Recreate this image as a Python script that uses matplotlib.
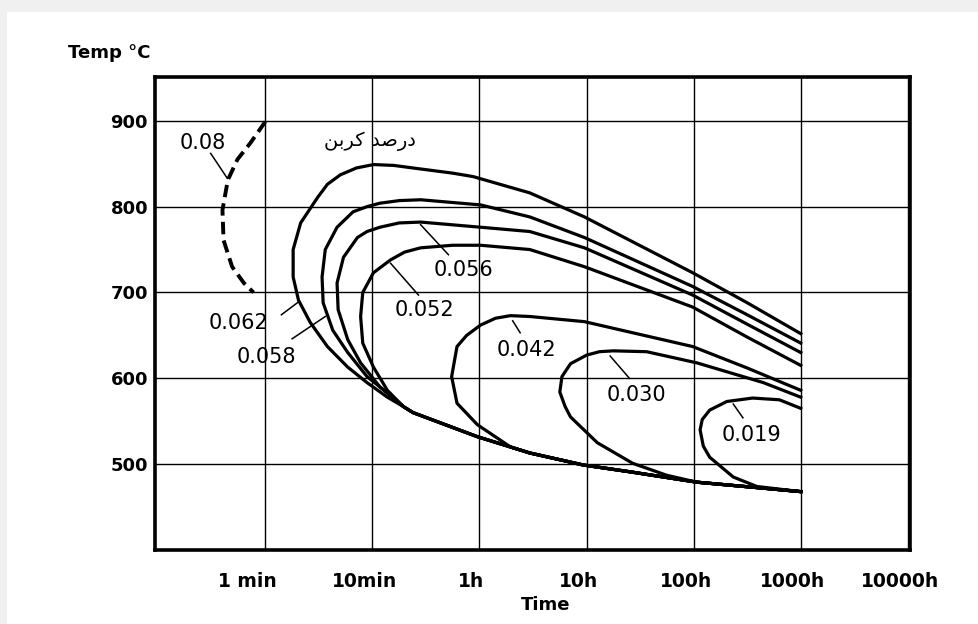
import matplotlib
matplotlib.use("Agg")
import matplotlib.pyplot as plt
from matplotlib.patches import Rectangle
from matplotlib.transforms import ScaledTranslation

# ---- axis categories (equally spaced time steps) ----
time_ticks = [1, 2, 3, 4, 5, 6, 7]
time_labels = ["1 min", "10min", "1h", "10h", "100h", "1000h", "10000h"]
temp_ticks = [500, 600, 700, 800, 900]

# ---- shared lower branch (time position, temperature °C) ----
bottom_x = [2.29, 2.38, 2.98, 3.47, 3.97, 4.41, 5.03, 5.65, 6.00]
bottom_t = [567, 560, 532, 513, 499, 491, 479, 472, 468]

# ---- upper branches + noses ----
c062_x = [6.00, 5.50, 4.99, 3.98, 3.47, 2.94, 2.75, 2.38, 2.20, 2.01, 1.85, 1.70, 1.58, 1.49, 1.33, 1.26, 1.26, 1.31, 1.42, 1.58, 1.77, 1.95, 2.14]
c062_t = [652, 688, 723, 788, 816, 835, 839, 845, 848, 849, 845, 837, 826, 811, 781, 750, 718, 691, 665, 637, 613, 595, 578]

c058_x = [6.00, 5.50, 4.99, 3.98, 3.47, 3.01, 2.45, 2.25, 2.07, 1.95, 1.82, 1.67, 1.56, 1.53, 1.54, 1.63, 1.77, 1.95, 2.14]
c058_t = [641, 674, 707, 764, 788, 802, 808, 807, 804, 800, 794, 776, 750, 718, 688, 656, 630, 602, 583]

c056_x = [6.00, 5.50, 4.99, 3.98, 3.47, 3.01, 2.45, 2.25, 2.07, 1.95, 1.86, 1.73, 1.67, 1.68, 1.77, 1.89, 2.07]
c056_t = [630, 663, 697, 752, 771, 776, 782, 781, 776, 771, 764, 741, 711, 680, 645, 618, 590]

c052_x = [6.00, 5.50, 4.99, 3.98, 3.47, 3.01, 2.75, 2.45, 2.30, 2.17, 2.01, 1.91, 1.89, 1.91, 2.01, 2.14]
c052_t = [615, 648, 683, 730, 750, 755, 755, 752, 747, 738, 723, 700, 672, 641, 613, 586]

c042_x = [6.00, 5.50, 4.99, 3.98, 3.47, 3.29, 3.15, 3.01, 2.88, 2.79, 2.74, 2.79, 2.98, 3.29, 3.47, 3.97, 4.41, 5.03, 5.65, 6.00]
c042_t = [586, 612, 637, 666, 672, 673, 670, 662, 650, 637, 602, 571, 546, 520, 513, 499, 491, 479, 472, 468]

c030_x = [6.00, 5.65, 5.03, 4.56, 4.25, 4.12, 4.00, 3.85, 3.77, 3.75, 3.80, 3.85, 4.10, 4.43, 4.75, 5.03, 5.65, 6.00]
c030_t = [578, 595, 618, 631, 632, 631, 627, 617, 602, 584, 567, 555, 525, 501, 487, 479, 472, 468]

c019_x = [6.00, 5.80, 5.55, 5.31, 5.15, 5.08, 5.06, 5.09, 5.15, 5.37, 5.59, 6.00]
c019_t = [565, 575, 577, 573, 563, 552, 540, 521, 508, 485, 474, 468]

c08_x = [1.00, 0.86, 0.74, 0.65, 0.60, 0.61, 0.69, 0.80, 0.89]
c08_t = [899, 874, 855, 831, 796, 761, 730, 711, 700]

carbon_labels = ["0.08", "0.062", "0.058", "0.056", "0.052", "0.042", "0.030", "0.019"]
arabic_title = "\uFEE6\uFE91\uFEAE\uFB90 \uFEAA\uFEBB\uFEAD\uFEA9"  # درصد کربن (pre-shaped, visual order)

# annotation placement: (text x, text y, leader start, leader end)
label_pos = {
    "0.08":  (0.42, 874, (0.49, 862), (0.645, 833)),
    "0.062": (0.75, 665, (1.15, 674), (1.31, 689)),
    "0.058": (1.01, 625, (1.25, 646), (1.56, 672)),
    "0.056": (2.85, 726, (2.45, 779), (2.71, 744)),
    "0.052": (2.49, 679, (2.17, 734), (2.43, 697)),
    "0.042": (3.44, 633, (3.31, 667), (3.38, 653)),
    "0.030": (4.47, 581, (4.22, 626), (4.40, 600)),
    "0.019": (5.54, 534, (5.37, 570), (5.46, 554)),
}

plt.rcParams["font.family"] = ["DejaVu Sans"]

fig = plt.figure(figsize=(9.79, 6.24), dpi=100, facecolor="#f0f0f0")
fig.patches.append(Rectangle((7 / 979, 0), 1, (624 - 12) / 624, transform=fig.transFigure,
                             facecolor="white", edgecolor="none", zorder=-10))
ax = fig.add_axes([155 / 979, 1 - 550 / 624, (910 - 155) / 979, (550 - 77) / 624])
ax.set_facecolor("white")

ax.set_xlim(-0.03, 7.02)
ax.set_ylim(400, 951)
ax.set_xticks(time_ticks)
ax.set_xticklabels(time_labels, fontsize=13.5, fontweight="bold")
ax.set_yticks(temp_ticks)
ax.set_yticklabels([str(t) for t in temp_ticks], fontsize=13, fontweight="bold")
ax.tick_params(length=0)
ax.tick_params(axis="x", pad=16)
ax.tick_params(axis="y", pad=5)
for i, lab in enumerate(ax.get_xticklabels()):
    dx = -18 if i == 0 else -8
    lab.set_transform(lab.get_transform() + ScaledTranslation(dx / 100, 0, fig.dpi_scale_trans))
ax.grid(True, color="black", linewidth=1.0)
ax.set_axisbelow(True)
for s in ax.spines.values():
    s.set_linewidth(2.6)
ax.set_xlabel("Time", fontsize=13, fontweight="bold")
ax.xaxis.set_label_coords(0.518, -0.097)

lw = 2.3
for cx, ct in [(c062_x, c062_t), (c058_x, c058_t), (c056_x, c056_t), (c052_x, c052_t)]:
    ax.plot(cx + bottom_x, ct + bottom_t, color="black", lw=lw, solid_joinstyle="round", zorder=3)
for cx, ct in [(c042_x, c042_t), (c030_x, c030_t), (c019_x, c019_t)]:
    ax.plot(cx, ct, color="black", lw=lw, solid_joinstyle="round", zorder=3)
ax.plot(c08_x, c08_t, color="black", lw=2.8, linestyle=(0, (3.2, 1.6)), zorder=3)

for name in carbon_labels:
    tx, ty, p0, p1 = label_pos[name]
    ax.text(tx, ty, name, fontsize=15, ha="center", va="center", zorder=4)
    ax.plot([p0[0], p1[0]], [p0[1], p1[1]], color="black", lw=1.1, zorder=4)

ax.text(1.98, 876, arabic_title, fontsize=14, ha="center", va="center",
        family=["DejaVu Sans"], zorder=4)

fig.text(68 / 979, 1 - 53 / 624, "Temp °C", fontsize=13, fontweight="bold", ha="left", va="center")

fig.savefig("out.png", dpi=100, facecolor=fig.get_facecolor())
